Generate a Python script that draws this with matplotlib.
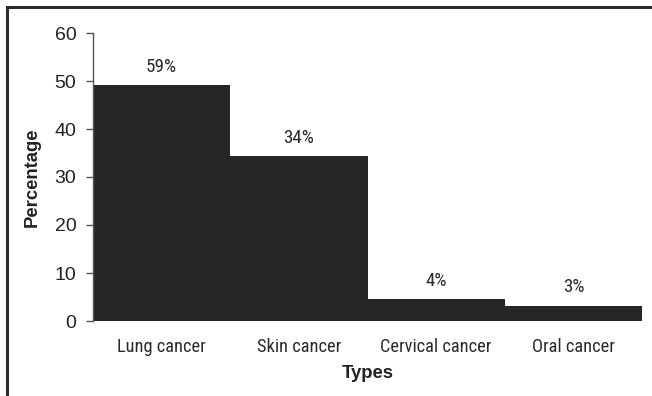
import matplotlib
matplotlib.use("Agg")
import matplotlib.pyplot as plt
from matplotlib.lines import Line2D

categories = ["Lung cancer", "Skin cancer", "Cervical cancer", "Oral cancer"]
heights = [49.1, 34.3, 4.5, 3.1]
labels = ["59%", "34%", "4%", "3%"]
yticks = [0, 10, 20, 30, 40, 50, 60]

NARROW = ["Roboto Condensed", "Liberation Sans", "DejaVu Sans"]
REG = ["Liberation Sans", "DejaVu Sans"]
plt.rcParams['font.family'] = NARROW

fig = plt.figure(figsize=(6.52, 3.96), dpi=100)
ax = fig.add_axes([93/652, 1-321/396, (642-93)/652, (321-33)/396])

x = list(range(len(categories)))
ax.bar(x, heights, width=1.0, color="#262626", edgecolor="none")
ax.set_xlim(-0.5, 3.5)
ax.set_ylim(0, 60)
ax.set_yticks(yticks)
ax.set_yticklabels([str(t) for t in yticks], fontsize=14, color="#222222", family=REG)
ax.set_xticks(x)
ax.set_xticklabels(categories, fontsize=13.2, color="#2a2a2a", family=NARROW)
ax.tick_params(axis="x", length=0, pad=12)
ax.tick_params(axis="y", length=5, width=1, color="#555555", pad=7, direction="out")

for s in ["top", "right", "bottom"]:
    ax.spines[s].set_visible(False)
ax.spines["left"].set_color("#555555")
ax.spines["left"].set_linewidth(1)

for xi, h, lab in zip(x, heights, labels):
    ax.annotate(lab, (xi, h), xytext=(0, 7), textcoords="offset points",
                ha="center", va="bottom", fontsize=13.8, color="#2a2a2a",
                family=NARROW)

ax.set_ylabel("Percentage", fontsize=13.3, fontweight="bold", family=REG, labelpad=10, color="#222222")
ax.set_xlabel("Types", fontsize=13.3, fontweight="bold", family=REG, labelpad=7, color="#222222")

# figure frame (top and left)
fig.add_artist(Line2D([7/652, 1], [1-7/396, 1-7/396], transform=fig.transFigure, color="#2b2b2b", lw=2.2))
fig.add_artist(Line2D([7/652, 7/652], [0, 1-7/396], transform=fig.transFigure, color="#2b2b2b", lw=2.2))

fig.savefig("out.png", dpi=100)
